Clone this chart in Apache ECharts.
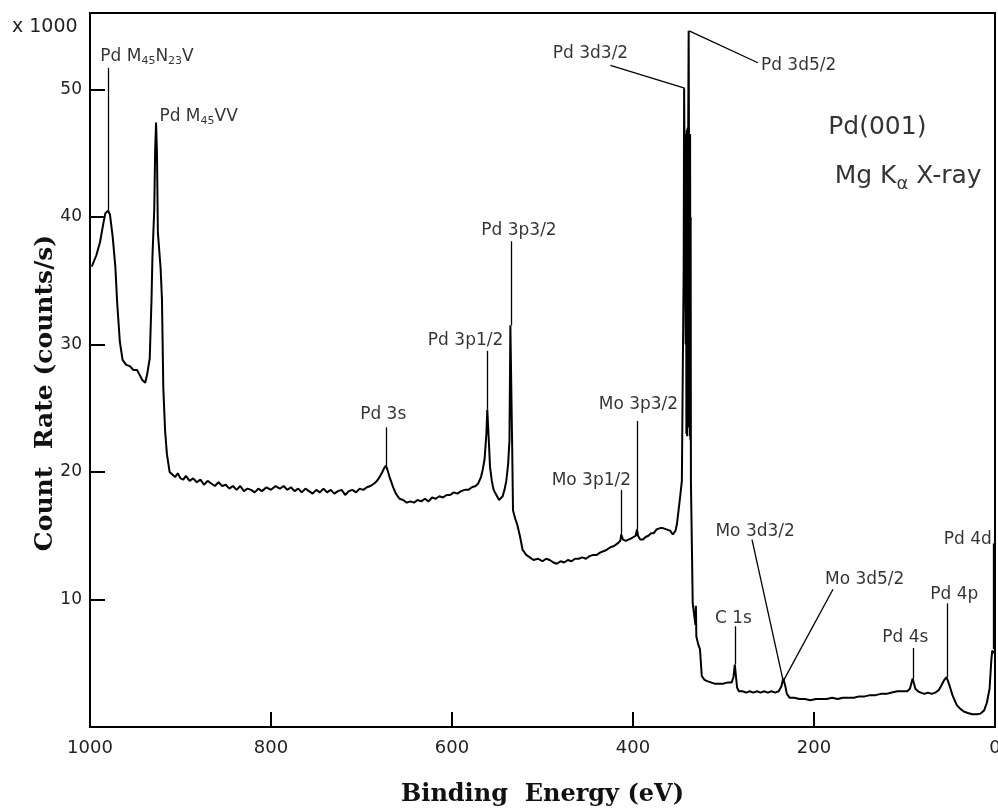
<!DOCTYPE HTML>
<html lang="en">
<head>
	<meta charset="utf-8">
	<title>Pd(001) XPS survey</title>
	<script src="https://cdn.jsdelivr.net/npm/echarts@6/dist/echarts.min.js"></script>
	<style>
		html, body { margin: 0; padding: 0; background: #fff; }
		#main { width: 998px; height: 811px; }
	</style>
</head>
<body>
	<div id="main"></div>
	<script>
		// binding energy (eV) and count rate (x1000 counts/s)
		var energy = [998, 993, 989, 985, 983, 980, 978, 975, 972, 970, 967, 964, 960, 956, 952, 948, 945, 942, 939, 937,
			934, 932, 931, 929, 928, 927, 926, 925, 922, 920.5, 919, 917, 915, 912, 909, 906, 903, 900, 897, 894,
			890, 886, 882, 878, 874, 870, 866, 862, 858, 854, 850, 846, 842, 838, 834, 830, 826, 822, 818, 814,
			810, 805, 800, 795, 790, 786, 782, 778, 774, 770, 766, 762, 758, 754, 750, 746, 742, 738, 734, 730,
			726, 722, 718, 714, 710, 706, 702, 698, 694, 690, 686, 683, 680, 677, 675, 673, 671, 669, 667, 665,
			662, 658, 654, 650, 646, 642, 638, 634, 630, 626, 622, 618, 614, 610, 606, 602, 598, 594, 590, 586,
			582, 578, 574, 571, 568, 566, 564, 562, 561, 560, 559, 558, 556, 554, 551, 548, 546, 544, 542, 540,
			538, 536.5, 535.5, 534.5, 533.5, 532.6, 530, 528, 525, 522, 518, 514, 510, 505, 500, 496, 492, 488, 484, 480,
			476, 472, 468, 464, 460, 456, 452, 448, 444, 440, 436, 432, 429, 425, 421, 417, 414, 413, 411, 408,
			406, 402, 400, 397, 395.6, 394.5, 392, 389, 386, 383, 380, 377, 374, 370, 367, 363, 359, 356, 353, 351.5,
			350, 348, 346, 345, 344, 343.5, 342.5, 341.8, 341.4, 341, 340.6, 340.2, 339.8, 339.4, 339, 338.5, 337.5, 337.2, 336.9, 336.6,
			336.3, 336, 334, 331, 330.5, 330, 328, 326,
			324, 321, 318, 314, 310, 305, 300, 295, 291, 289, 287.5, 286.5, 285, 283, 279, 275, 271, 267, 263, 259,
			255, 251, 247, 243, 239, 236, 234, 232, 230, 227, 222, 216, 210, 204, 198, 192, 186, 180, 174, 168,
			162, 156, 150, 144, 138, 132, 126, 120, 114, 108, 102, 97, 94, 91, 90, 88, 85, 82, 78, 74,
			70, 66, 62, 59, 56, 53.5, 52, 50, 47, 44, 42, 38, 34, 30, 25, 20, 16, 12, 9, 6,
			4, 3, 2, 1];
		var counts = [36.1, 37.0, 38.0, 39.6, 40.3, 40.5, 40.2, 38.5, 36.1, 33.3, 30.2, 28.8, 28.4, 28.3, 28.0, 28.0, 27.6, 27.2, 27.0, 27.6,
			28.9, 33.6, 36.9, 40.6, 45.3, 47.4, 45.0, 38.8, 36.0, 33.6, 26.6, 23.2, 21.4, 20.0, 19.8, 19.6, 19.9, 19.5, 19.4, 19.7,
			19.3, 19.5, 19.2, 19.4, 19.0, 19.3, 19.1, 18.9, 19.2, 18.9, 19.0, 18.7, 18.9, 18.6, 18.9, 18.5, 18.7, 18.6, 18.4, 18.7,
			18.5, 18.8, 18.6, 18.9, 18.7, 18.9, 18.6, 18.8, 18.5, 18.7, 18.4, 18.7, 18.5, 18.3, 18.6, 18.4, 18.7, 18.4, 18.6, 18.3,
			18.5, 18.6, 18.2, 18.5, 18.6, 18.4, 18.7, 18.6, 18.8, 18.9, 19.1, 19.3, 19.6, 20.0, 20.3, 20.5, 20.1, 19.6, 19.2, 18.8,
			18.3, 17.9, 17.8, 17.6, 17.7, 17.6, 17.8, 17.7, 17.9, 17.7, 18.0, 17.9, 18.1, 18.0, 18.2, 18.2, 18.4, 18.3, 18.5, 18.6,
			18.6, 18.8, 18.9, 19.1, 19.6, 20.2, 21.0, 23.0, 24.9, 24.9, 22.0, 20.4, 19.3, 18.6, 18.2, 17.8, 17.8, 18.1, 18.6, 19.3,
			20.6, 22.5, 31.5, 31.5, 22.0, 17.0, 16.3, 15.9, 15.0, 13.9, 13.5, 13.3, 13.1, 13.2, 13.0, 13.2, 13.1, 12.9, 12.8, 13.0,
			12.9, 13.1, 13.0, 13.2, 13.2, 13.3, 13.2, 13.4, 13.5, 13.5, 13.7, 13.8, 13.9, 14.1, 14.2, 14.4, 14.6, 15.1, 14.7, 14.6,
			14.7, 14.8, 14.9, 15.0, 15.5, 15.0, 14.7, 14.7, 14.9, 15.0, 15.2, 15.2, 15.5, 15.6, 15.6, 15.5, 15.4, 15.1, 15.4, 15.9,
			16.8, 18.0, 19.3, 27.9, 36.0, 50.1, 50.1, 30.0, 46.5, 23.0, 46.8, 22.8, 47.0, 23.5, 47.0, 54.6, 54.6, 22.8, 46.5, 22.5,
			40.0, 19.3, 9.7, 8.0, 9.5, 7.1, 6.5, 6.1,
			4.0, 3.7, 3.6, 3.5, 3.4, 3.4, 3.4, 3.5, 3.5, 3.9, 4.9, 4.9, 3.1, 2.8, 2.8, 2.7, 2.8, 2.7, 2.8, 2.7,
			2.8, 2.7, 2.8, 2.7, 2.8, 3.2, 3.8, 3.3, 2.6, 2.3, 2.3, 2.2, 2.2, 2.1, 2.2, 2.2, 2.2, 2.3, 2.2, 2.3,
			2.3, 2.3, 2.4, 2.4, 2.5, 2.5, 2.6, 2.6, 2.7, 2.8, 2.8, 2.8, 3.0, 3.8, 3.8, 3.0, 2.8, 2.7, 2.6, 2.7,
			2.6, 2.7, 2.9, 3.3, 3.7, 3.9, 3.8, 3.2, 2.5, 2.0, 1.7, 1.4, 1.2, 1.1, 1.0, 1.0, 1.05, 1.3, 1.9, 3.0,
			5.3, 6.0, 6.1, 5.8];

		// peak labels: text and where the text sits (energy, counts)
		var peakNames = ['Pd M{s|45}N{s|23}V', 'Pd M{s|45}VV', 'Pd 3d3/2', 'Pd 3d5/2', 'Pd 3p3/2', 'Pd 3p1/2', 'Pd 3s',
			'Mo 3p3/2', 'Mo 3p1/2', 'Mo 3d3/2', 'Mo 3d5/2', 'C 1s', 'Pd 4s', 'Pd 4p', 'Pd 4d'];
		var labelE = [937, 880, 447, 217, 526, 585, 676, 394, 446, 265, 144, 289, 99, 45, 30];
		var labelC = [52.6, 47.9, 52.8, 51.9, 38.9, 30.3, 24.5, 25.3, 19.3, 15.3, 11.6, 8.5, 7.0, 10.4, 14.7];

		// leader lines: from the peak to just under its label
		var leadFromE = [980, 927, 343, 338, 535, 561, 673, 395.6, 413, 234, 234, 287, 90.5, 53, 2];
		var leadFromC = [40.5, 47.4, 50.1, 54.6, 31.5, 24.9, 20.5, 15.5, 15.1, 3.6, 3.6, 4.9, 3.8, 3.9, 6.1];
		var leadToE = [980, 927, 425, 262, 535, 561, 673, 395.6, 413, 268.5, 179, 287, 90.5, 53, 2];
		var leadToC = [51.7, 47.4, 51.9, 52.1, 38.1, 29.5, 23.5, 24.0, 18.6, 14.7, 10.8, 7.9, 6.2, 9.7, 14.4];

		// sample / source note
		var noteText = ['Pd(001)', 'Mg K{a|α} X-ray'];
		var noteE = [130, 96];
		var noteC = [47.0, 43.2];

		var yTicks = [10, 20, 30, 40, 50];

		var chart = echarts.init(document.getElementById('main'));

		var spectrum = energy.map(function (e, i) { return [e, counts[i]]; });

		var leaders = leadFromE.map(function (e, i) {
			return [{ coord: [e, leadFromC[i]] }, { coord: [leadToE[i], leadToC[i]] }];
		});

		var labels = peakNames.map(function (t, i) {
			return { name: t, value: [labelE[i], labelC[i]] };
		}).concat(noteText.map(function (t, i) {
			return { name: t, value: [noteE[i], noteC[i]], label: { fontSize: 25 } };
		}));

		var option = {
			animation: false,
			backgroundColor: '#fff',
			grid: {
				left: 90, right: 3, top: 13, bottom: 84,
				outerBoundsMode: 'none',
				show: true, borderColor: '#000', borderWidth: 2
			},
			xAxis: {
				type: 'value', min: 0, max: 1000, interval: 200, inverse: true,
				axisLine: { onZero: false, lineStyle: { color: '#000', width: 2 } },
				axisTick: { inside: true, length: 15, lineStyle: { color: '#000', width: 2 } },
				axisLabel: {
					color: '#222', fontSize: 18, fontFamily: 'DejaVu Sans', margin: 12,
					formatter: function (v) { return String(v); }
				},
				splitLine: { show: false },
				name: 'Binding  Energy (eV)', nameLocation: 'middle', nameGap: 56,
				nameTextStyle: { color: '#111', fontSize: 24, fontWeight: 'bold', fontFamily: 'DejaVu Serif' }
			},
			yAxis: {
				type: 'value', min: 0, max: 56, interval: 10,
				axisLine: { onZero: false, lineStyle: { color: '#000', width: 2 } },
				axisTick: { inside: true, length: 15, lineStyle: { color: '#000', width: 2 } },
				axisLabel: {
					color: '#222', fontSize: 17, fontFamily: 'DejaVu Sans', margin: 8,
					formatter: function (v) { return yTicks.indexOf(v) >= 0 ? v : ''; }
				},
				splitLine: { show: false }
			},
			graphic: [
				{
					type: 'text', left: 12, top: 18,
					style: { text: 'x 1000', fill: '#222', fontSize: 19, fontFamily: 'DejaVu Sans' }
				},
				{
					type: 'text', x: 45, y: 393, rotation: Math.PI / 2,
					style: {
						text: 'Count  Rate (counts/s)', fill: '#111', fontSize: 25, fontWeight: 'bold',
						fontFamily: 'DejaVu Serif', align: 'center', verticalAlign: 'middle'
					}
				}
			],
			series: [
				{
					type: 'line', data: spectrum, showSymbol: false, symbol: 'none',
					lineStyle: { color: '#000', width: 2 },
					markLine: {
						silent: true, symbol: ['none', 'none'], label: { show: false },
						lineStyle: { color: '#000', width: 1.3, type: 'solid' },
						data: leaders
					},
					z: 3
				},
				{
					type: 'scatter', data: labels, symbolSize: 0, silent: true,
					label: {
						show: true, position: 'inside', color: '#000', fontSize: 17, fontFamily: 'DejaVu Sans',
						formatter: function (p) { return p.name; },
						rich: {
							s: { fontSize: 11, fontFamily: 'DejaVu Sans', color: '#000', padding: [10, 0, 0, 0] },
							a: { fontSize: 18, fontFamily: 'DejaVu Sans', color: '#000', padding: [16, 0, 0, 0] }
						}
					},
					z: 4
				}
			]
		};

		chart.setOption(option);
	</script>
</body>
</html>
